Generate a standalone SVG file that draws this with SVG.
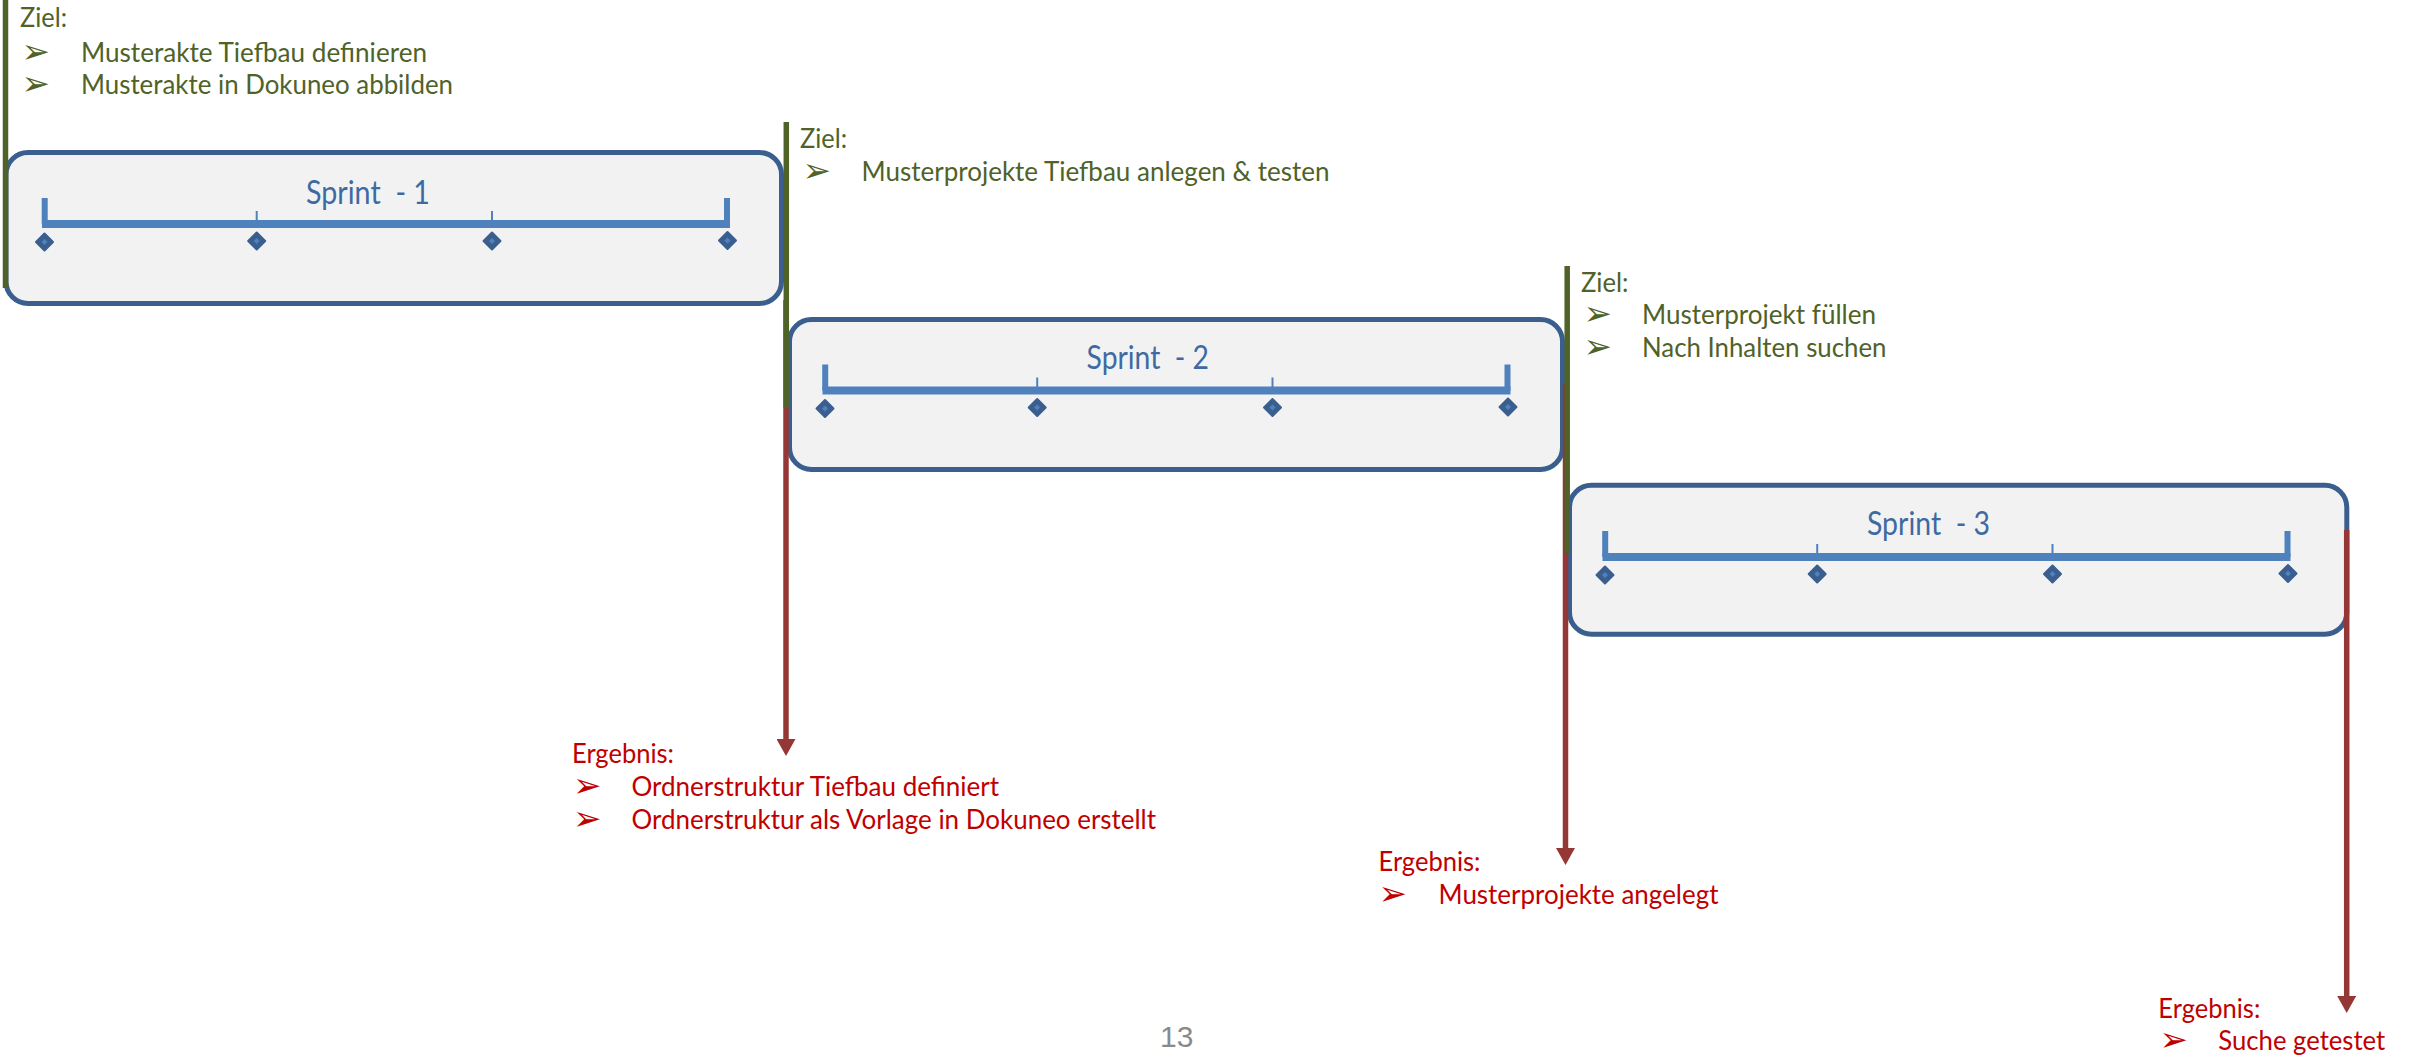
<svg xmlns="http://www.w3.org/2000/svg" xmlns:xlink="http://www.w3.org/1999/xlink" width="2410" height="1058" viewBox="0 0 2410 1058">
  <style>
    .box { fill: #f2f2f2; stroke: #3a5f8f; stroke-width: 5; }
    .bar { stroke: #4f81bd; stroke-width: 8; fill: none; }
    .tick { stroke: #4f81bd; stroke-width: 6; fill: none; }
    .mini { stroke: #4f81bd; stroke-width: 2; fill: none; }
    .dia { fill: #3a5f8f; stroke: #3a5f8f; stroke-width: 2; stroke-linejoin: round; }
    .dia-in { fill: #4f81bd; }
    .sprint { font-family: Lato, "Liberation Sans", sans-serif; font-size: 32px; fill: #3e6aa3; }
    .t { font-family: Lato, "Liberation Sans", sans-serif; font-size: 27px; }
    .g { fill: #4f6228; }
    .r { fill: #c00000; }
    .b { font-family: "DejaVu Sans", sans-serif; font-size: 34px; }
    .green { stroke: #4f6228; stroke-width: 5.5; fill: none; }
    .red { stroke: #953735; stroke-width: 5.5; fill: none; }
    .pg { font-family: "Liberation Sans", Arial, sans-serif; font-size: 30px; fill: #8a8a8a; }
  </style>
  <defs>
    <marker id="arr" markerUnits="userSpaceOnUse" markerWidth="17" markerHeight="19" viewBox="0 0 17 19" refX="0" refY="9.5" orient="auto">
      <path d="M0,0 L17,9.5 L0,19 Z" fill="#953735"/>
    </marker>
    <g id="dm">
      <polygon class="dia" points="0,-8.5 8.5,0 0,8.5 -8.5,0"/>
      <polygon class="dia-in" points="0,-3 3,0 0,3 -3,0"/>
    </g>
    <g id="timeline">
      <line class="bar" x1="42" y1="224" x2="730" y2="224"/>
      <line class="tick" x1="44.7" y1="198" x2="44.7" y2="224"/>
      <line class="tick" x1="727" y1="198" x2="727" y2="224"/>
      <line class="mini" x1="256.7" y1="211" x2="256.7" y2="221"/>
      <line class="mini" x1="492" y1="211" x2="492" y2="221"/>
      <use xlink:href="#dm" x="44.5" y="242"/>
      <use xlink:href="#dm" x="256.7" y="241"/>
      <use xlink:href="#dm" x="492" y="241"/>
      <use xlink:href="#dm" x="727.5" y="240.5"/>
    </g>
  </defs>

  <g id="sprint1">
    <rect class="box" x="6" y="152.5" width="775.5" height="151" rx="22"/>
    <use xlink:href="#timeline"/>
    <text class="sprint" x="306" y="204" textLength="124" lengthAdjust="spacingAndGlyphs" xml:space="preserve">Sprint  - 1</text>
  </g>

  <g id="sprint2">
    <rect class="box" x="789.5" y="319.5" width="773" height="150" rx="22"/>
    <use xlink:href="#timeline" transform="translate(780.5,166.5)"/>
    <text class="sprint" x="1086.6" y="369" textLength="122.4" lengthAdjust="spacingAndGlyphs" xml:space="preserve">Sprint  - 2</text>
  </g>

  <g id="sprint3">
    <rect class="box" x="1569.5" y="485.2" width="777.3" height="149" rx="22"/>
    <use xlink:href="#timeline" transform="translate(1560.5,333)"/>
    <text class="sprint" x="1867" y="535" textLength="123" lengthAdjust="spacingAndGlyphs" xml:space="preserve">Sprint  - 3</text>
  </g>

  <g id="connectors">
    <line class="green" x1="5.5" y1="0" x2="5.5" y2="288"/>
    <line class="red" x1="786" y1="300" x2="786" y2="739" marker-end="url(#arr)"/>
    <line class="green" x1="786.3" y1="122" x2="786.3" y2="408"/>
    <line class="red" x1="1565.5" y1="383" x2="1565.5" y2="848" marker-end="url(#arr)"/>
    <line class="green" x1="1567.2" y1="266" x2="1567.2" y2="553"/>
    <line class="red" x1="2346.7" y1="530" x2="2346.7" y2="996" marker-end="url(#arr)"/>
  </g>

  <g id="ziel1">
    <text class="t g" x="20" y="27" textLength="47" lengthAdjust="spacingAndGlyphs">Ziel:</text>
    <text class="b g" x="21.5" y="63">➢</text>
    <text class="t g" x="81" y="62" textLength="346" lengthAdjust="spacingAndGlyphs">Musterakte Tiefbau definieren</text>
    <text class="b g" x="21.5" y="95">➢</text>
    <text class="t g" x="81" y="94" textLength="372" lengthAdjust="spacingAndGlyphs">Musterakte in Dokuneo abbilden</text>
  </g>

  <g id="ziel2">
    <text class="t g" x="800" y="148" textLength="47" lengthAdjust="spacingAndGlyphs">Ziel:</text>
    <text class="b g" x="802.5" y="182">➢</text>
    <text class="t g" x="861.5" y="181" textLength="468" lengthAdjust="spacingAndGlyphs">Musterprojekte Tiefbau anlegen &amp; testen</text>
  </g>

  <g id="ziel3">
    <text class="t g" x="1581" y="292" textLength="47.5" lengthAdjust="spacingAndGlyphs">Ziel:</text>
    <text class="b g" x="1583.5" y="325">➢</text>
    <text class="t g" x="1642" y="324" textLength="234" lengthAdjust="spacingAndGlyphs">Musterprojekt füllen</text>
    <text class="b g" x="1583.5" y="358">➢</text>
    <text class="t g" x="1642" y="357" textLength="244.5" lengthAdjust="spacingAndGlyphs">Nach Inhalten suchen</text>
  </g>

  <g id="ergebnis1">
    <text class="t r" x="572" y="763" textLength="102" lengthAdjust="spacingAndGlyphs">Ergebnis:</text>
    <text class="b r" x="573" y="797">➢</text>
    <text class="t r" x="631.5" y="796" textLength="367.5" lengthAdjust="spacingAndGlyphs">Ordnerstruktur Tiefbau definiert</text>
    <text class="b r" x="573" y="830">➢</text>
    <text class="t r" x="631.5" y="829" textLength="524.5" lengthAdjust="spacingAndGlyphs">Ordnerstruktur als Vorlage in Dokuneo erstellt</text>
  </g>

  <g id="ergebnis2">
    <text class="t r" x="1378.5" y="871" textLength="102" lengthAdjust="spacingAndGlyphs">Ergebnis:</text>
    <text class="b r" x="1378.5" y="904.5">➢</text>
    <text class="t r" x="1438.5" y="903.5" textLength="280" lengthAdjust="spacingAndGlyphs">Musterprojekte angelegt</text>
  </g>

  <g id="ergebnis3">
    <text class="t r" x="2158.3" y="1018.3" textLength="102" lengthAdjust="spacingAndGlyphs">Ergebnis:</text>
    <text class="b r" x="2159.5" y="1051">➢</text>
    <text class="t r" x="2218.3" y="1050" textLength="167" lengthAdjust="spacingAndGlyphs">Suche getestet</text>
  </g>

  <g id="page">
    <text class="pg" x="1160" y="1046.7">13</text>
  </g>
</svg>
